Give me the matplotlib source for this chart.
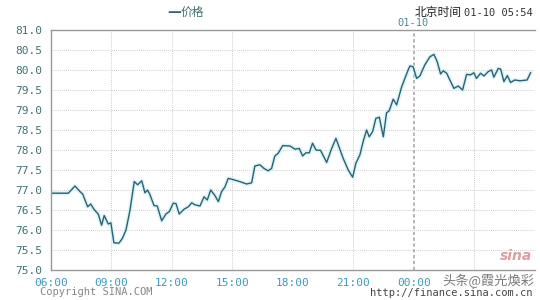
import matplotlib
matplotlib.use("Agg")
import matplotlib.pyplot as plt

# hours since 06:00 (01-09) and price
hours = [0.0, 0.86, 1.19, 1.44, 1.57, 1.82, 1.97, 2.1, 2.35, 2.51, 2.64, 2.84, 2.97,
         3.12, 3.37, 3.54, 3.72, 3.92, 4.13, 4.3, 4.5, 4.66, 4.79, 4.91, 5.11, 5.27,
         5.49, 5.7, 5.87, 6.06, 6.2, 6.36, 6.6, 6.81, 6.98, 7.14, 7.39, 7.59, 7.75,
         7.92, 8.13, 8.3, 8.46, 8.63, 8.79, 8.96, 9.37, 9.7, 9.95, 10.11, 10.36, 10.56,
         10.77, 10.94, 11.1, 11.27, 11.49, 11.85, 12.1, 12.31, 12.48, 12.64, 12.81,
         12.97, 13.14, 13.37, 13.67, 13.92, 14.13, 14.49, 14.74, 14.96, 15.12, 15.32,
         15.48, 15.65, 15.78, 15.95, 16.11, 16.28, 16.48, 16.64, 16.77, 16.97, 17.14,
         17.39, 17.55, 17.71, 17.8, 17.96, 18.13, 18.29, 18.54, 18.79, 18.99, 19.15,
         19.32, 19.45, 19.62, 19.78, 19.98, 20.19, 20.41, 20.61, 20.81, 20.97, 21.1,
         21.3, 21.47, 21.68, 21.85, 21.96, 22.18, 22.3, 22.46, 22.63, 22.79, 23.0,
         23.25, 23.61, 23.78]
price = [76.92, 76.92, 77.1, 76.96, 76.9, 76.58, 76.65, 76.54, 76.39, 76.12, 76.36,
         76.15, 76.18, 75.68, 75.67, 75.79, 76.0, 76.5, 77.21, 77.13, 77.23, 76.93,
         77.0, 76.88, 76.61, 76.6, 76.23, 76.4, 76.46, 76.67, 76.66, 76.4, 76.52,
         76.58, 76.68, 76.63, 76.6, 76.83, 76.75, 77.0, 76.86, 76.71, 76.96, 77.08,
         77.29, 77.27, 77.21, 77.15, 77.18, 77.6, 77.63, 77.54, 77.48, 77.54, 77.85,
         77.92, 78.11, 78.1, 78.02, 78.04, 77.85, 77.93, 77.93, 78.17, 78.0, 77.99,
         77.69, 78.04, 78.29, 77.79, 77.5, 77.32, 77.67, 77.88, 78.21, 78.5, 78.33,
         78.46, 78.79, 78.82, 78.33, 78.93, 78.98, 79.27, 79.13, 79.58, 79.79, 80.0,
         80.1, 80.08, 79.79, 79.85, 80.13, 80.33, 80.39, 80.21, 79.9, 79.98, 79.92,
         79.75, 79.54, 79.6, 79.5, 79.89, 79.88, 79.93, 79.79, 79.92, 79.85, 79.96,
         80.0, 79.82, 80.04, 80.02, 79.71, 79.86, 79.69, 79.75, 79.73, 79.75, 79.93]

# 03:00 label is hidden under the watermark in the original
xtick_pos = [0, 3, 6, 9, 12, 15, 18]
xtick_labels = ["06:00", "09:00", "12:00", "15:00", "18:00", "21:00", "00:00"]
yticks = [75.0, 75.5, 76.0, 76.5, 77.0, 77.5, 78.0, 78.5, 79.0, 79.5, 80.0, 80.5, 81.0]

mono = "DejaVu Sans Mono"
cjk = ["Noto Sans CJK SC", "DejaVu Sans"]

fig = plt.figure(figsize=(5.4, 3.0), dpi=100)
ax = fig.add_axes([0.0944, 0.1, 0.8963, 0.8])

# light halo then the line
ax.plot(hours, price, color="#bfeef5", lw=3, alpha=0.6, solid_joinstyle="round")
ax.plot(hours, price, color="#2f6070", lw=1.0)

ax.set_xlim(0, 24)
ax.set_ylim(75, 81)

# grid
for y in yticks[1:-1]:
    ax.axhline(y, color="#bbbbbb", lw=0.6, ls=(0, (1, 1.5)), zorder=0)
for x in [3, 6, 9, 15, 21, 24]:
    ax.axvline(x, color="#bbbbbb", lw=0.6, ls=(0, (1, 1.5)), zorder=0)
ax.axvline(18, color="#aaaaaa", lw=1.2, ls=(0, (2, 1.5)), zorder=0)

ax.set_xticks(xtick_pos)
ax.set_xticklabels(xtick_labels)
ax.set_yticks(yticks)
ax.set_yticklabels(["%.1f" % v for v in yticks])
ax.tick_params(length=0)
ax.tick_params(axis="x", pad=6, labelsize=8, labelcolor="#3a9ac0")
ax.tick_params(axis="y", pad=6, labelsize=8, labelcolor="#3f7272")
for lab in ax.get_xticklabels() + ax.get_yticklabels():
    lab.set_fontfamily(mono)

for s in ["left", "bottom", "top"]:
    ax.spines[s].set_color("#999999")
    ax.spines[s].set_linewidth(1.0)
ax.spines["right"].set_visible(False)

# header
fig.text(0.309, 0.96, "—", color="#2f6070", fontsize=10, fontweight="bold",
         ha="left", va="center", family="DejaVu Sans")
fig.text(0.334, 0.958, "价格", color="#3f6f70", fontsize=8.5, ha="left", va="center", family=cjk)
fig.text(0.768, 0.958, "北京时间", color="#222222", fontsize=8.5, ha="left", va="center", family=cjk)
fig.text(0.987, 0.958, "01-10 05:54", color="#333333", fontsize=7.5, ha="right",
         va="center", family=mono)
fig.text(0.765, 0.925, "01-10", color="#4a8a96", fontsize=7.5, ha="center", va="center",
         family=mono)

# footer
fig.text(0.075, 0.027, "Copyright SINA.COM", color="#888888", fontsize=7.5, ha="left",
         va="center", family=mono)
fig.text(0.987, 0.022, "http://finance.sina.com.cn", color="#444444", fontsize=7.5,
         ha="right", va="center", family=mono)
fig.text(0.99, 0.062, "头条@霞光煥彩", color="#444444", fontsize=9.5, alpha=0.7,
         ha="right", va="center", family=cjk)
fig.text(0.985, 0.145, "sina", color="#d9a0a0", fontsize=10, fontstyle="italic",
         fontweight="bold", ha="right", va="center", family="DejaVu Sans")

fig.savefig("out.png", dpi=100)
